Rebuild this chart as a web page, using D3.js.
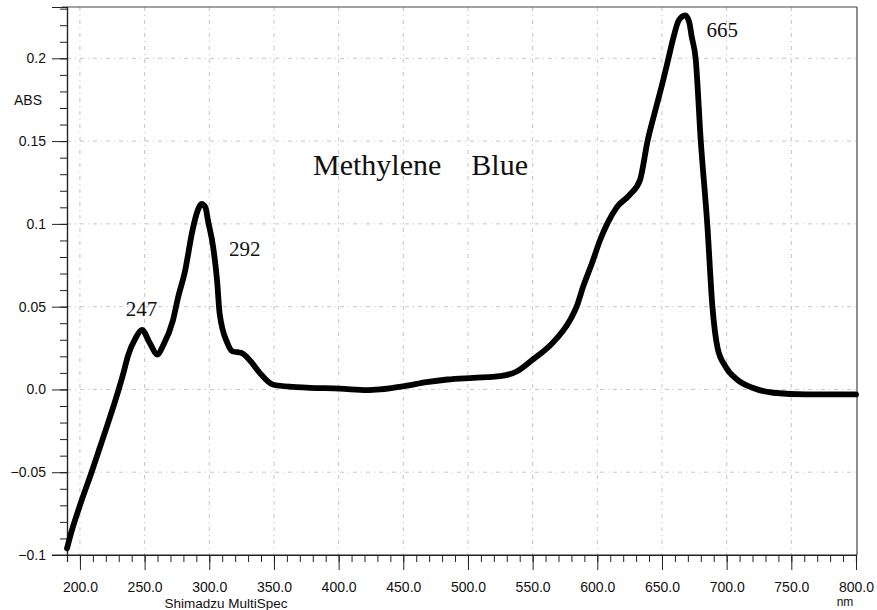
<!DOCTYPE html>
<html>
<head>
<meta charset="utf-8">
<script src="https://cdn.jsdelivr.net/npm/d3@7"></script>
<style>
  html, body { margin: 0; padding: 0; background: #fff; }
  svg { display: block; }
</style>
</head>
<body>
<svg id="chart" width="877" height="610"></svg>
<script>
// ---- data ----
const wavelength = [190, 192, 200, 209, 215, 221, 226, 230, 234, 237, 243, 248, 254, 260, 264, 272, 276, 281, 287, 291, 294, 297, 299, 303, 306, 308, 314, 318, 325, 332, 339, 349, 365, 378, 401, 422, 432, 451, 468, 484, 504, 525, 538, 550, 564, 579, 584, 589, 596, 602, 608, 615, 625, 633, 639, 645, 647, 651, 655, 659, 663, 668, 671, 673, 676, 680, 685, 689, 693, 699, 708, 720, 736, 762, 800];
const absorbance = [-0.096, -0.090, -0.070, -0.050, -0.036, -0.022, -0.010, 0.000, 0.011, 0.020, 0.031, 0.036, 0.028, 0.021, 0.026, 0.042, 0.056, 0.0705, 0.096, 0.108, 0.112, 0.110, 0.102, 0.086, 0.066, 0.046, 0.028, 0.023, 0.022, 0.017, 0.010, 0.003, 0.0015, 0.001, 0.0005, -0.0004, 0.000, 0.002, 0.0044, 0.006, 0.007, 0.008, 0.011, 0.018, 0.027, 0.042, 0.050, 0.062, 0.0765, 0.090, 0.1006, 0.110, 0.1175, 0.1265, 0.1506, 0.169, 0.175, 0.187, 0.200, 0.213, 0.223, 0.226, 0.222, 0.213, 0.200, 0.150, 0.100, 0.050, 0.025, 0.014, 0.006, 0.001, -0.002, -0.003, -0.003];

const xMajorTicks = [200, 250, 300, 350, 400, 450, 500, 550, 600, 650, 700, 750, 800];
const xTickLabels = ["200.0", "250.0", "300.0", "350.0", "400.0", "450.0", "500.0", "550.0", "600.0", "650.0", "700.0", "750.0", "800.0"];
const yMajorTicks = [0.2, 0.15, 0.1, 0.05, 0.0, -0.05, -0.1];
const yTickLabels = ["0.2", "0.15", "0.1", "0.05", "0.0", "\u22120.05", "\u22120.1"];

const peakLabels = ["247", "292", "665"];
const peakX = [247, 292, 665];
const peakY = [0.036, 0.112, 0.226];

const title = "Methylene    Blue";
const yAxisTitle = "ABS";
const xAxisTitle = "nm";
const footer = "Shimadzu MultiSpec";

// ---- layout ----
const svg = d3.select("#chart");
const mLeft = 67, mRight = 857, mTop = 7, mBottom = 555;

const x = d3.scaleLinear().domain([190, 800]).range([mLeft, 856]);
const y = d3.scaleLinear().domain([-0.1, 0.231]).range([mBottom, mTop]);

const xMinor = d3.range(190, 801, 10);
const yMinor = d3.range(-100, 231, 10).map(v => v / 1000);

// grid
const grid = svg.append("g").attr("stroke", "#888").attr("stroke-width", 0.8)
  .attr("stroke-dasharray", "4,4,1,4").attr("opacity", 0.6);
grid.selectAll("line.v").data(xMajorTicks.filter(v => v < 800)).join("line").attr("class", "v")
  .attr("x1", d => x(d)).attr("x2", d => x(d)).attr("y1", mTop).attr("y2", mBottom);
grid.selectAll("line.h").data(yMajorTicks.filter(v => v > -0.1)).join("line").attr("class", "h")
  .attr("x1", mLeft).attr("x2", mRight).attr("y1", d => y(d)).attr("y2", d => y(d));

// frame (top and right)
svg.append("line").attr("x1", 62).attr("x2", mRight).attr("y1", mTop).attr("y2", mTop)
  .attr("stroke", "#444").attr("stroke-width", 1.2);
svg.append("line").attr("x1", mRight).attr("x2", mRight).attr("y1", mTop).attr("y2", mBottom)
  .attr("stroke", "#444").attr("stroke-width", 1.2);

// axes
const fontSans = "'Liberation Sans', Arial, Helvetica, sans-serif";

const xMinorAxis = d3.axisBottom(x).tickValues(xMinor).tickSize(7).tickFormat("");
const gxm = svg.append("g").attr("transform", `translate(0,${mBottom})`).call(xMinorAxis);
const xAxis = d3.axisBottom(x).tickValues(xMajorTicks).tickSize(15).tickPadding(12)
  .tickFormat((d, i) => xTickLabels[i]);
const gx = svg.append("g").attr("transform", `translate(0,${mBottom})`).call(xAxis);

const yMinorAxis = d3.axisLeft(y).tickValues(yMinor).tickSize(7).tickFormat("");
const gym = svg.append("g").attr("transform", `translate(${mLeft},0)`).call(yMinorAxis);
const yAxis = d3.axisLeft(y).tickValues(yMajorTicks).tickSize(15).tickPadding(6)
  .tickFormat((d, i) => yTickLabels[i]);
const gy = svg.append("g").attr("transform", `translate(${mLeft},0)`).call(yAxis);

[gxm, gx, gym, gy].forEach(g => {
  g.select(".domain").attr("stroke", "#222").attr("stroke-width", 1.2);
  g.selectAll(".tick line").attr("stroke", "#222").attr("stroke-width", 1);
  g.selectAll("text").attr("font-family", fontSans).attr("font-size", 14).attr("fill", "#111");
});
gx.select(".domain").attr("d", `M52,0H${mRight}`);

// axis titles
svg.append("text").attr("x", 14).attr("y", 105).attr("font-family", fontSans)
  .attr("font-size", 14).attr("fill", "#111").text(yAxisTitle);
svg.append("text").attr("x", 845).attr("y", 606).attr("text-anchor", "middle").attr("font-family", fontSans)
  .attr("font-size", 12).attr("fill", "#111").text(xAxisTitle);
svg.append("text").attr("x", 226).attr("y", 608).attr("text-anchor", "middle").attr("font-family", fontSans)
  .attr("font-size", 13.5).attr("fill", "#111").text(footer);

// curve
const pts = wavelength.map((w, i) => [w, absorbance[i]]);
const line = d3.line().x(d => x(d[0])).y(d => y(d[1])).curve(d3.curveMonotoneX);
svg.append("path").datum(pts).attr("d", line).attr("fill", "none")
  .attr("stroke", "#000").attr("stroke-width", 5.8)
  .attr("stroke-linejoin", "round").attr("stroke-linecap", "round");

// title and peak labels
const fontSerif = "'Liberation Serif', 'Times New Roman', serif";
svg.append("text").attr("x", 313).attr("y", 175).attr("font-family", fontSerif)
  .attr("font-size", 30).attr("fill", "#111").style("white-space", "pre").text(title);

const peakDx = [-15, 30, 25];
const peakDy = [-14, 52, 22];
svg.selectAll("text.peak").data(peakLabels).join("text").attr("class", "peak")
  .attr("x", (d, i) => x(peakX[i]) + peakDx[i])
  .attr("y", (d, i) => y(peakY[i]) + peakDy[i])
  .attr("font-family", fontSerif).attr("font-size", 21).attr("fill", "#111")
  .text(d => d);
</script>
</body>
</html>
